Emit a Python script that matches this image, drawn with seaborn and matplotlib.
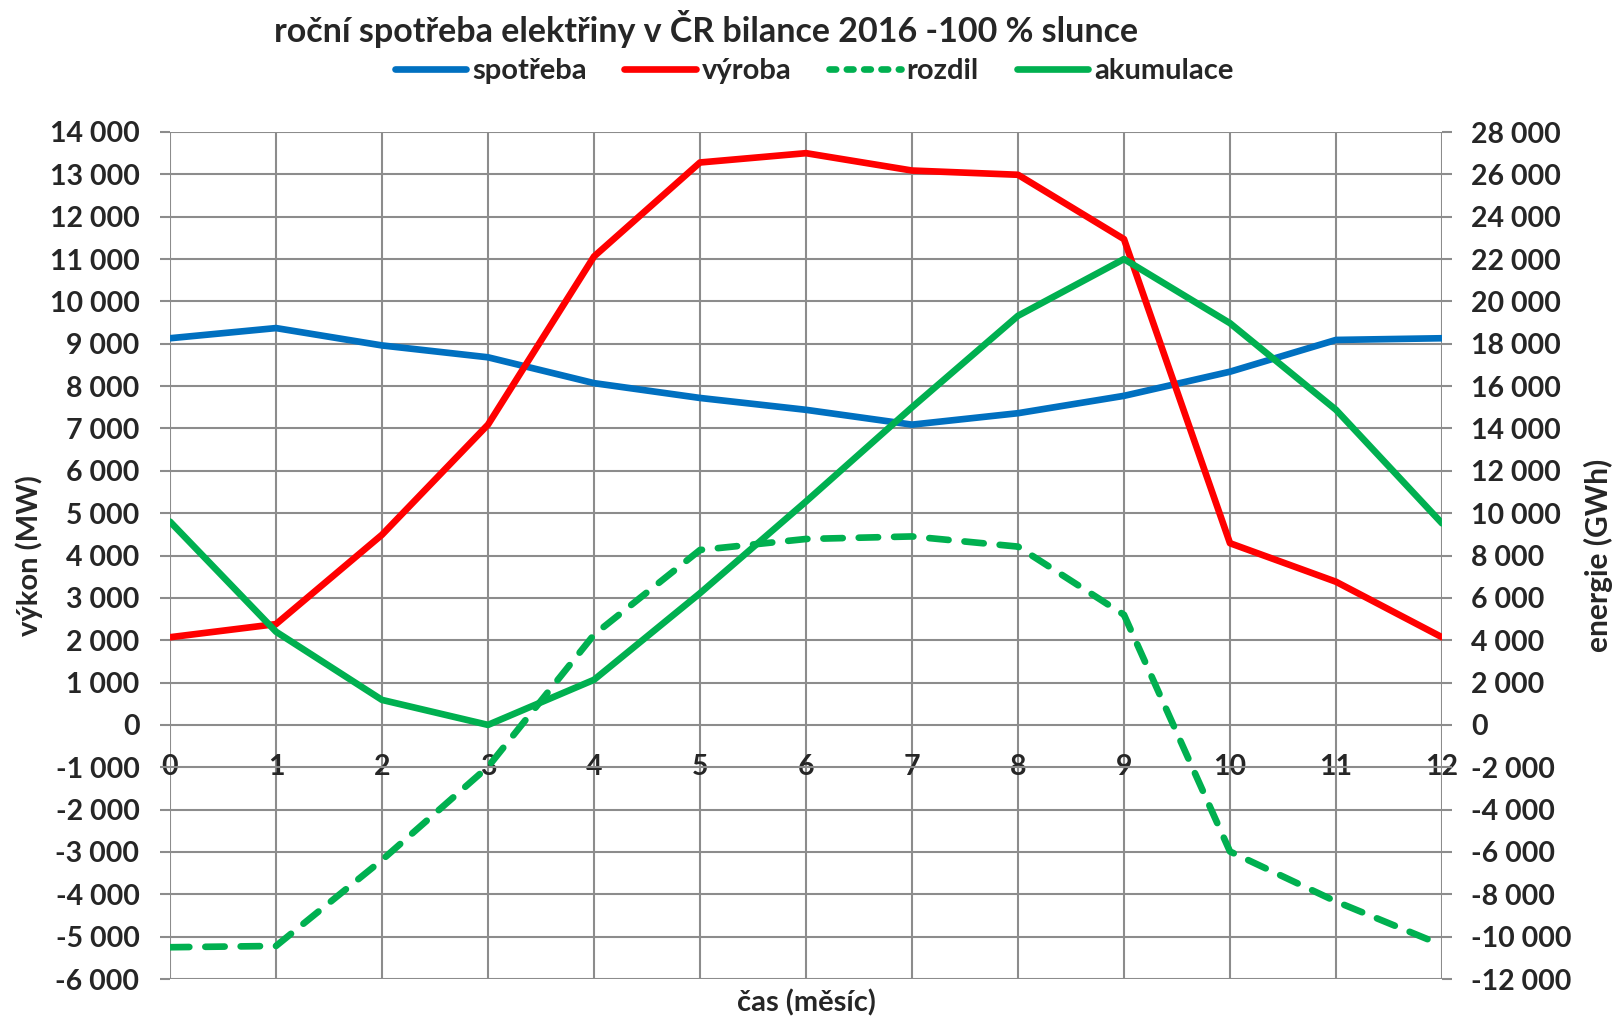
import matplotlib
matplotlib.use("Agg")
import matplotlib.pyplot as plt
from matplotlib.lines import Line2D
from matplotlib.ticker import FuncFormatter, MultipleLocator
import seaborn as sns

# Monthly balance (months 0..12)
mesice = list(range(13))
spotreba = [9130, 9370, 8960, 8680, 8070, 7720, 7440, 7090, 7360, 7770, 8340, 9090, 9130]      # MW
vyroba = [2070, 2380, 4490, 7090, 11060, 13280, 13500, 13090, 12990, 11470, 4290, 3380, 2070]  # MW
rozdil = [-5250, -5220, -3190, -990, 2130, 4130, 4390, 4450, 4210, 2600, -2990, -4170, -5200]  # left axis
akumulace = [9600, 4400, 1180, 0, 2130, 6220, 10550, 15000, 19320, 22000, 18970, 14880, 9520]  # GWh

titulek = "roční spotřeba elektřiny v ČR bilance 2016 -100 % slunce"
nazvy = ["spotřeba", "výroba", "rozdil", "akumulace"]

sns.set_style("white")
plt.rcParams["font.family"] = ["Lato", "DejaVu Sans"]
WEIGHT = "bold"
plt.rcParams["font.weight"] = WEIGHT

MODRA = "#0070C0"
CERVENA = "#FF0000"
ZELENA = "#00B050"
SEDA = "#8C8C8C"
LW = 4.8
FS = 20.5
DASH = (0, (2.9, 2.4))

fig = plt.figure(figsize=(16.13, 10.18), dpi=100)
ax = fig.add_axes([170 / 1613, 1 - 979 / 1018, 1272 / 1613, 847 / 1018])
ax2 = ax.twinx()

sns.lineplot(x=mesice, y=spotreba, ax=ax, color=MODRA, lw=LW, zorder=3)
sns.lineplot(x=mesice, y=vyroba, ax=ax, color=CERVENA, lw=LW, zorder=3)
sns.lineplot(x=mesice, y=rozdil, ax=ax, color=ZELENA, lw=LW, zorder=3)
sns.lineplot(x=mesice, y=akumulace, ax=ax2, color=ZELENA, lw=LW, zorder=3)

# the difference series is dashed with rounded dash ends
dashed = ax.lines[2]
dashed.set_linestyle(DASH)
dashed.set_dash_capstyle("round")

ax.set_xlim(0, 12)
ax.set_ylim(-6000, 14000)
ax2.set_ylim(-12000, 28000)
ax.yaxis.set_major_locator(MultipleLocator(1000))
ax2.yaxis.set_major_locator(MultipleLocator(2000))
ax.xaxis.set_major_locator(MultipleLocator(1))

fmt = FuncFormatter(lambda v, p: f"{int(round(v)):,}".replace(",", " "))
ax.yaxis.set_major_formatter(fmt)
ax2.yaxis.set_major_formatter(fmt)

ax.grid(True, color=SEDA, lw=1.5)
ax.set_axisbelow(True)
for a in (ax, ax2):
    for s in a.spines.values():
        s.set_visible(False)

# x labels sit under the zero line
ax.spines["bottom"].set_position(("data", 0))
ax.tick_params(axis="x", length=0, pad=21, labelsize=FS)
ax.tick_params(axis="y", length=7, width=1.5, color=SEDA, pad=15, labelsize=FS)
ax2.tick_params(axis="y", length=7, width=1.5, color=SEDA, pad=14, labelsize=FS)
for lab in ax.get_xticklabels() + ax.get_yticklabels() + ax2.get_yticklabels():
    lab.set_fontweight(WEIGHT)

ax.set_xlabel("čas (měsíc)", fontsize=21, fontweight=WEIGHT)
ax.xaxis.label.set_va("center")
ax.xaxis.set_label_coords(0.5, -0.028)
ax.set_ylabel("výkon (MW)", fontsize=21, fontweight=WEIGHT)
ax.yaxis.label.set_va("center")
ax.yaxis.set_label_coords(-0.111, 0.5)
ax2.set_ylabel("energie (GWh)", fontsize=21.5, fontweight=WEIGHT, rotation=90)
ax2.yaxis.label.set_va("center")
ax2.yaxis.set_label_coords(1.1226, 0.5)

fig.text(706 / 1613, 1 - 29 / 1018, titulek, ha="center", va="center",
         fontsize=24.5, fontweight=WEIGHT)

handles = [
    Line2D([], [], color=MODRA, lw=LW),
    Line2D([], [], color=CERVENA, lw=LW),
    Line2D([], [], color=ZELENA, lw=LW, linestyle=(0, (1.0, 1.6)), dash_capstyle="round"),
    Line2D([], [], color=ZELENA, lw=LW),
]
fig.legend(handles, nazvy, loc="center", bbox_to_anchor=(814 / 1613, 1 - 71 / 1018),
           ncol=4, frameon=False, handlelength=2.45, handletextpad=0.2,
           columnspacing=1.3, prop={"weight": WEIGHT, "size": 21})

fig.savefig("out.png", dpi=100)
